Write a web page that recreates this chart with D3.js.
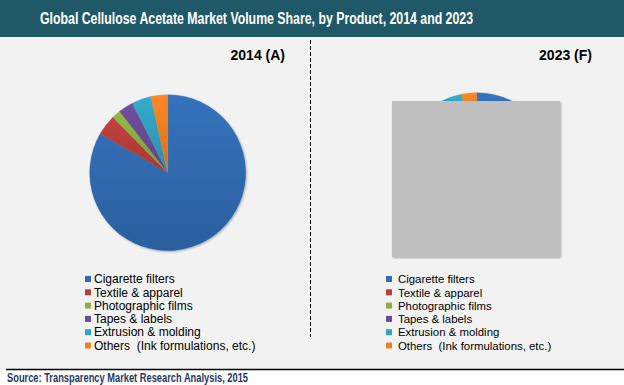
<!DOCTYPE html>
<html>
<head>
<meta charset="utf-8">
<script src="https://cdn.jsdelivr.net/npm/d3@7"></script>
<style>
  html, body { margin: 0; padding: 0; background: #f2f2f2; }
  svg { display: block; }
</style>
</head>
<body>
<svg id="chart" width="624" height="385"></svg>
<script>
// data
const products = [
  "Cigarette filters",
  "Textile & apparel",
  "Photographic films",
  "Tapes & labels",
  "Extrusion & molding",
  "Others  (Ink formulations, etc.)",
];
const share2014 = [83.3, 4.3, 1.8, 3.1, 4.0, 3.5];
const share2023 = [82.0, 4.5, 1.6, 3.2, 5.6, 3.1];
const panelTitles = ["2014 (A)", "2023 (F)"];
const colors = ["#316cb3", "#b93f3b", "#8bb141", "#6b4c97", "#31a2c2", "#ef8124"];

const svg = d3.select("#chart");
const W = 624, H = 385;

svg.append("rect").attr("width", W).attr("height", H).attr("fill", "#f2f2f2");

// header bar
svg.append("rect").attr("width", W).attr("height", 37).attr("fill", "#1f5866");
svg.append("text")
  .attr("x", 40).attr("y", 24)
  .attr("font-family", "Arial, 'Liberation Sans', sans-serif")
  .attr("font-weight", "bold").attr("font-size", 16)
  .attr("textLength", 433).attr("lengthAdjust", "spacingAndGlyphs")
  .attr("fill", "#ffffff")
  .text("Global Cellulose Acetate Market Volume Share, by Product, 2014 and 2023");

// footer
svg.append("rect").attr("x", 0).attr("y", 370).attr("width", W).attr("height", 15).attr("fill", "#ffffff");
svg.append("line").attr("x1", 6).attr("x2", W).attr("y1", 369.5).attr("y2", 369.5)
  .attr("stroke", "#000").attr("stroke-width", 1.5);
svg.append("text")
  .attr("x", 7).attr("y", 381.5)
  .attr("font-family", "Arial, 'Liberation Sans', sans-serif")
  .attr("font-weight", "bold").attr("font-size", 12)
  .attr("textLength", 241).attr("lengthAdjust", "spacingAndGlyphs")
  .attr("fill", "#1f3864")
  .text("Source: Transparency Market Research Analysis, 2015");

// divider
svg.append("line").attr("x1", 310.5).attr("x2", 310.5).attr("y1", 40).attr("y2", 337)
  .attr("stroke", "#000").attr("stroke-width", 1).attr("stroke-dasharray", "4,2");

// gradients + shadow
const defs = svg.append("defs");
colors.forEach((c, i) => {
  const g = defs.append("linearGradient").attr("id", "g" + i)
    .attr("x1", 0).attr("y1", 0).attr("x2", 0).attr("y2", 1);
  g.append("stop").attr("offset", "0%").attr("stop-color", d3.color(c).brighter(0.15));
  g.append("stop").attr("offset", "100%").attr("stop-color", d3.color(c).darker(0.35));
});
const f = defs.append("filter").attr("id", "shadow")
  .attr("x", "-20%").attr("y", "-20%").attr("width", "140%").attr("height", "140%");
f.append("feDropShadow").attr("dx", 1).attr("dy", 1).attr("stdDeviation", 1.2)
  .attr("flood-color", "#000").attr("flood-opacity", 0.3);

const pie = d3.pie().sort(null).startAngle(0).endAngle(2 * Math.PI);
const arc = d3.arc().innerRadius(0).outerRadius(78);

const panels = [
  { values: share2014, cx: 167.7, cy: 172.7, titleX: 285, legX: 85, legFont: 12, textDx: 9 },
  { values: share2023, cx: 476.7, cy: 170.7, titleX: 592, legX: 386, legFont: 11.4, textDx: 12 },
];

panels.forEach((p, k) => {
  svg.append("text")
    .attr("x", p.titleX).attr("y", 60)
    .attr("text-anchor", "end")
    .attr("font-family", "Arial, 'Liberation Sans', sans-serif")
    .attr("font-weight", "bold").attr("font-size", 14)
    .attr("fill", "#000")
    .text(panelTitles[k]);

  const g = svg.append("g")
    .attr("transform", `translate(${p.cx},${p.cy})`)
    .attr("filter", "url(#shadow)");
  g.selectAll("path")
    .data(pie(p.values))
    .join("path")
    .attr("d", arc)
    .attr("fill", (d, i) => `url(#g${i})`)
    .attr("stroke", (d, i) => colors[i])
    .attr("stroke-width", 0.3);

  const leg = svg.append("g");
  const rowY = d3.scaleLinear().domain([0, products.length - 1]).range([279, 345.5]);
  const rows = leg.selectAll("g")
    .data(products)
    .join("g")
    .attr("transform", (d, i) => `translate(${p.legX},${rowY(i)})`);
  rows.append("rect")
    .attr("x", 0).attr("y", -3).attr("width", 6).attr("height", 6)
    .attr("fill", (d, i) => colors[i]);
  rows.append("text")
    .attr("x", p.textDx).attr("y", 4.2)
    .attr("font-family", "Arial, 'Liberation Sans', sans-serif")
    .attr("font-size", p.legFont)
    .attr("fill", "#000")
    .attr("xml:space", "preserve")
    .style("white-space", "pre")
    .text(d => d);
});

// grey box covering the 2023 pie
svg.append("rect")
  .attr("x", 392).attr("y", 101).attr("width", 168).attr("height", 156)
  .attr("fill", "#bfbfbf")
  .attr("filter", "url(#shadow)");
</script>
</body>
</html>
